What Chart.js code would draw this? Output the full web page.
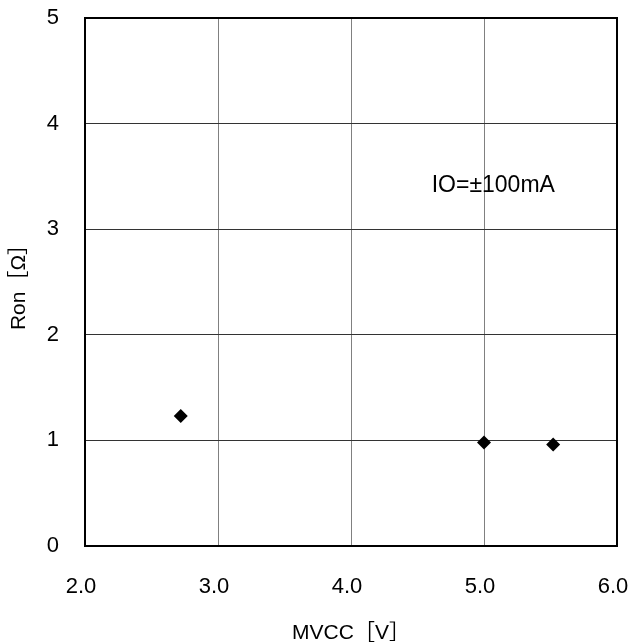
<!DOCTYPE html>
<html>
<head>
<meta charset="utf-8">
<script src="https://cdn.jsdelivr.net/npm/chart.js@4.4.0/dist/chart.umd.min.js"></script>
<style>
  html, body { margin: 0; padding: 0; background: #fff; }
  #wrap { width: 630px; height: 643px; position: relative; }
</style>
</head>
<body>
<div id="wrap"><canvas id="chart"></canvas></div>
<script>
const mvcc = [2.72, 5.0, 5.52];
const ron = [1.23, 0.98, 0.96];
const xTicks = [2, 3, 4, 5, 6];
const yTicks = [0, 1, 2, 3, 4, 5];
const noteText = 'IO=±100mA';
const notePos = [5.07, 3.41];

const FONT = "'Liberation Sans', Arial, 'Noto Sans CJK JP', sans-serif";

// frame + note label
const framePlugin = {
    id: 'frame',
    afterDraw(chart) {
        const ctx = chart.ctx;
        const a = chart.chartArea;
        ctx.save();
        ctx.strokeStyle = '#000';
        ctx.lineWidth = 2;
        ctx.strokeRect(a.left, a.top, a.right - a.left, a.bottom - a.top);
        const x = chart.scales.x.getPixelForValue(notePos[0]);
        const y = chart.scales.y.getPixelForValue(notePos[1]);
        ctx.fillStyle = '#000';
        ctx.font = '23px ' + FONT;
        ctx.textAlign = 'center';
        ctx.textBaseline = 'middle';
        ctx.fillText(noteText, x, y);
        ctx.restore();
    }
};

new Chart(document.getElementById('chart'), {
    type: 'scatter',
    data: {
        datasets: [{
            label: 'Ron',
            data: mvcc.map((v, i) => ({ x: v, y: ron[i] })),
            pointStyle: 'rectRot',
            pointRadius: 7,
            pointBackgroundColor: '#000',
            pointBorderColor: '#000',
            pointBorderWidth: 0
        }]
    },
    options: {
        responsive: true,
        maintainAspectRatio: false,
        animation: false,
        layout: { padding: { top: 18, right: 13, left: 0, bottom: 0 } },
        plugins: {
            legend: { display: false },
            tooltip: { enabled: false }
        },
        scales: {
            x: {
                type: 'linear',
                min: 2,
                max: 6,
                afterFit(scale) {
                    scale.height = 97;
                    scale.paddingLeft = 0;
                    scale.paddingRight = 0;
                },
                afterBuildTicks(scale) { scale.ticks = xTicks.map(v => ({ value: v })); },
                grid: { color: '#808080', lineWidth: 1, drawTicks: false },
                border: { display: false },
                ticks: {
                    padding: 28,
                    labelOffset: -4,
                    color: '#000',
                    font: { size: 22, family: FONT },
                    callback: v => v.toFixed(1)
                },
                title: {
                    display: true,
                    text: 'MVCC［V］',
                    color: '#000',
                    font: { size: 21, family: FONT },
                    padding: { top: 0, bottom: -3 }
                }
            },
            y: {
                type: 'linear',
                min: 0,
                max: 5,
                afterFit(scale) {
                    scale.width = 85;
                    scale.paddingTop = 0;
                    scale.paddingBottom = 0;
                },
                afterBuildTicks(scale) { scale.ticks = yTicks.map(v => ({ value: v })); },
                grid: { color: '#333', lineWidth: 1, drawTicks: false },
                border: { display: false },
                ticks: {
                    padding: 26,
                    color: '#000',
                    font: { size: 22, family: FONT }
                },
                title: {
                    display: true,
                    text: 'Ron［Ω］',
                    color: '#000',
                    font: { size: 21, family: FONT },
                    padding: { top: 7, bottom: 0 }
                }
            }
        }
    },
    plugins: [framePlugin]
});
</script>
</body>
</html>
